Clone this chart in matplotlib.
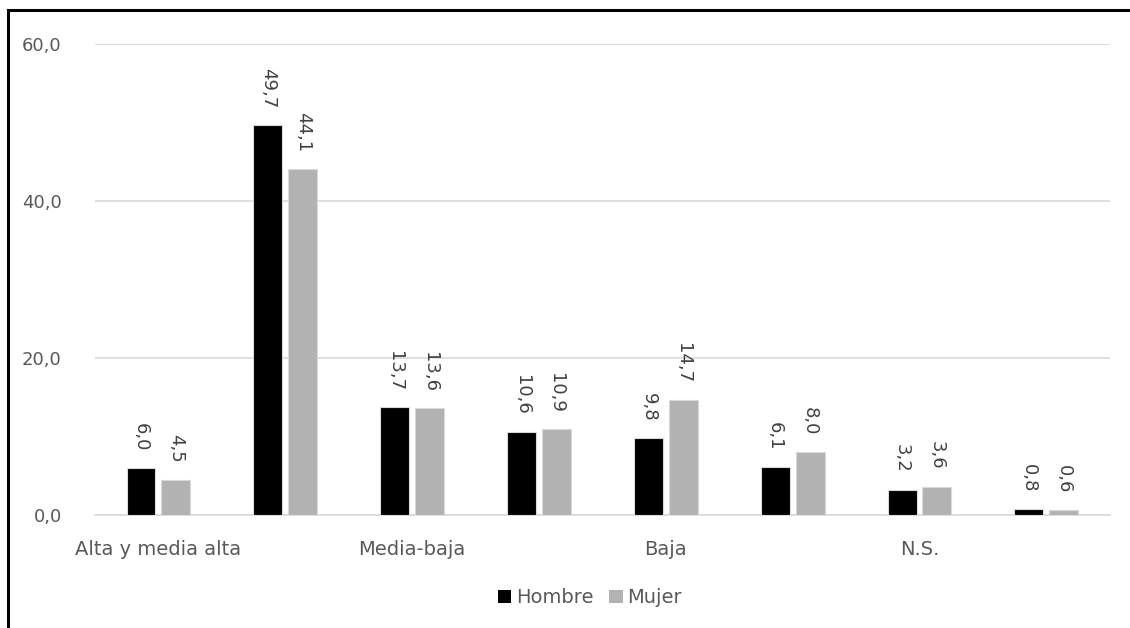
import numpy as np
import matplotlib.pyplot as plt
from matplotlib.patches import Patch, Rectangle

# clase social - hombre / mujer (%)
categories = ["Alta y media alta", "Media-media", "Media-baja", "Trabajadora",
              "Baja", "Pobre", "N.S.", "N.C."]
hombre = [6.0, 49.7, 13.7, 10.6, 9.8, 6.1, 3.2, 0.8]
mujer = [4.5, 44.1, 13.6, 10.9, 14.7, 8.0, 3.6, 0.6]
yticks = [0, 20, 40, 60]

txt = '#595959'
grid = '#d9d9d9'

fig = plt.figure(figsize=(11.3, 6.28), dpi=100)
ax = fig.add_axes([0.0841, 0.180, 0.898, 0.750])

x = np.arange(len(categories))
w = 0.228
off = 0.1375
b1 = ax.bar(x - off, hombre, w, color='black', edgecolor=grid, linewidth=0.8, zorder=3)
b2 = ax.bar(x + off, mujer, w, color='#b2b2b2', edgecolor=grid, linewidth=0.8, zorder=3)

def fmt(v):
    return ('%.1f' % v).replace('.', ',')

for bars, vals in ((b1, hombre), (b2, mujer)):
    for r, v in zip(bars, vals):
        ax.annotate(fmt(v), (r.get_x() + r.get_width() / 2, v),
                    xytext=(0, 12), textcoords='offset points',
                    rotation=-90, ha='center', va='bottom',
                    fontsize=13, color='#404040')

ax.set_xlim(-0.5, len(categories) - 0.5)
ax.set_ylim(0, 60)
ax.set_yticks(yticks)
ax.set_yticklabels([fmt(v) for v in yticks], fontsize=13, color=txt)
ax.set_xticks(x[::2])
ax.set_xticklabels(categories[::2], fontsize=14, color=txt)
ax.tick_params(axis='both', length=0)
ax.tick_params(axis='y', pad=24)
ax.tick_params(axis='x', pad=18)
ax.yaxis.grid(True, color=grid, linewidth=1.2, zorder=0)
for s in ['top', 'right', 'left']:
    ax.spines[s].set_visible(False)
ax.spines['bottom'].set_color(grid)
ax.spines['bottom'].set_linewidth(1.2)

handles = [Patch(facecolor='black', label='Hombre'),
           Patch(facecolor='#b2b2b2', label='Mujer')]
fig.legend(handles=handles, loc='center', bbox_to_anchor=(0.522, 0.048), ncol=2,
           frameon=False, fontsize=14, labelcolor=txt, handlelength=0.7,
           handleheight=0.7, handletextpad=0.25, columnspacing=0.8)

# outer frame
fig.patches.append(Rectangle((8 / 1130, -0.05), 1.1, 1 - 10 / 628 + 0.05,
                             transform=fig.transFigure, fill=False,
                             edgecolor='black', linewidth=2.2))

fig.savefig('out.png', dpi=100)
